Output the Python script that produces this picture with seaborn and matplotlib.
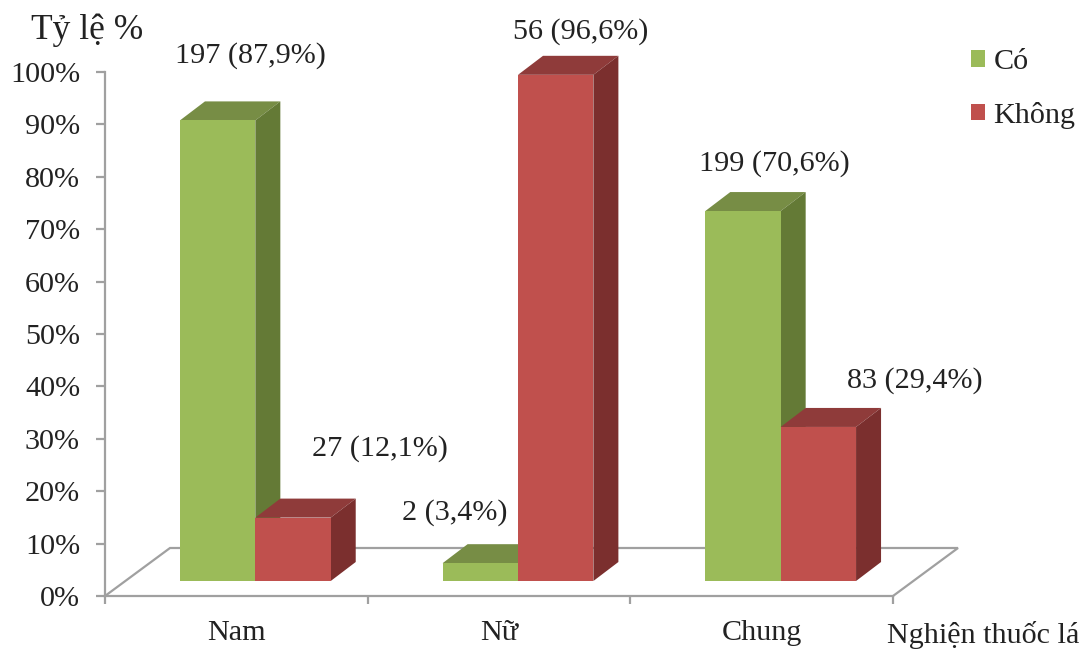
import matplotlib
matplotlib.use("Agg")
import matplotlib.pyplot as plt
import pandas as pd
import seaborn as sns
from matplotlib.lines import Line2D
from matplotlib.patches import Polygon
from matplotlib.transforms import Affine2D, IdentityTransform

# Smoking prevalence by sex
groups = ["Nam", "Nữ", "Chung"]
answers = ["Có", "Không"]
counts_yes = [197, 2, 199]
counts_no = [27, 56, 83]
percent_yes = [87.9, 3.4, 70.6]
percent_no = [12.1, 96.6, 29.4]
y_ticks = list(range(0, 101, 10))

sns.set_theme(style="white")
plt.rcParams["font.family"] = ["Liberation Serif", "DejaVu Serif"]
plt.rcParams["text.color"] = "#222222"

W, H = 1089, 652
FONT = 21.7
GRID = "#A0A0A0"
fronts = ["#9BBB59", "#C0504D"]
tops = ["#778D45", "#8F3B3A"]
sides = ["#647A36", "#7B2F2E"]

# Pseudo-3D geometry, in pixels
BAR_SHIFT = (19, 15)
BAR_DEPTH = (25, 19)
FLOOR_DEPTH = (65, 48)

# Label offsets from the front-top centre of each bar, in pixels
label_offsets = [
    [(52, 79.5), (-7, 65.5), (50, 62.5)],
    [(106, 84.5), (44, 58.5), (115, 61)],
]

df = pd.DataFrame({
    "group": groups * 2,
    "answer": [answers[0]] * 3 + [answers[1]] * 3,
    "percent": percent_yes + percent_no,
})

fig = plt.figure(figsize=(W / 100, H / 100), dpi=100)
ax = fig.add_axes([105 / W, (H - 596) / H, 788 / W, 524 / H])
sns.barplot(data=df, x="group", y="percent", hue="answer", order=groups,
            hue_order=answers, palette=fronts, saturation=1, width=0.574,
            gap=0, ax=ax, legend=False)
ax.set_xlim(-0.5, 2.5)
ax.set_ylim(0, 100)
ax.set_xlabel("")
ax.set_ylabel("")

# Axes
for name in ("top", "right"):
    ax.spines[name].set_visible(False)
for name in ("left", "bottom"):
    ax.spines[name].set_color(GRID)
    ax.spines[name].set_linewidth(1.6)
ax.set_yticks(y_ticks, [f"{t}%" for t in y_ticks], fontsize=FONT, color="#222222")
ax.set_xticks([-0.5, 0.5, 1.5, 2.5], [""] * 4)
ax.set_xticks(range(3), groups, minor=True, fontsize=FONT, color="#222222")
ax.tick_params(axis="y", which="major", left=True, length=6.5, width=1.6,
               color=GRID, pad=11.5)
ax.tick_params(axis="x", which="major", bottom=True, length=6, width=1.6, color=GRID)
ax.tick_params(axis="x", which="minor", bottom=False, length=0, pad=17)

# Floor outline behind the bars
to_px = ax.transData.transform
(x_left, y_front) = to_px((-0.5, 0))
(x_right, _) = to_px((2.5, 0))
fdx, fdy = FLOOR_DEPTH
ax.add_line(Line2D([x_left, x_left + fdx, x_right + fdx, x_right],
                   [y_front, y_front + fdy, y_front + fdy, y_front],
                   color=GRID, lw=1.6, transform=IdentityTransform(),
                   clip_on=False, zorder=1, solid_joinstyle="miter"))

# Extrude each bar and annotate it
sx, sy = BAR_SHIFT
dx, dy = BAR_DEPTH
count_rows = [counts_yes, counts_no]
percent_rows = [percent_yes, percent_no]
shift = Affine2D().translate(sx, sy)
for h, container in enumerate(ax.containers):
    base_z = 3 + h * 3
    for i, bar in enumerate(container):
        x0, x1 = bar.get_x(), bar.get_x() + bar.get_width()
        value = bar.get_height()
        bar.set_transform(ax.transData + shift)
        bar.set_clip_on(False)
        bar.set_edgecolor("none")
        bar.set_zorder(base_z + 2)
        ax0, ay0 = to_px((x0, 0))
        ax1, ay1 = to_px((x1, value))
        ax0, ax1, ay0, ay1 = ax0 + sx, ax1 + sx, ay0 + sy, ay1 + sy
        ax.add_patch(Polygon([(ax0, ay1), (ax1, ay1), (ax1 + dx, ay1 + dy), (ax0 + dx, ay1 + dy)],
                             closed=True, facecolor=tops[h], edgecolor="none",
                             transform=IdentityTransform(), clip_on=False, zorder=base_z + 1))
        ax.add_patch(Polygon([(ax1, ay0), (ax1, ay1), (ax1 + dx, ay1 + dy), (ax1 + dx, ay0 + dy)],
                             closed=True, facecolor=sides[h], edgecolor="none",
                             transform=IdentityTransform(), clip_on=False, zorder=base_z + 1))
        text = f"{count_rows[h][i]} ({percent_rows[h][i]:.1f}%)".replace(".", ",")
        ax.annotate(text, xy=((x0 + x1) / 2, value), xycoords="data",
                    xytext=label_offsets[h][i], textcoords="offset pixels",
                    ha="center", va="center", fontsize=FONT, annotation_clip=False,
                    zorder=20)

# Axis titles
ax.annotate("Tỷ lệ %", xy=(0, 1), xycoords="axes fraction", xytext=(-18, 42),
            textcoords="offset pixels", ha="center", va="center", fontsize=25.5)
ax.annotate("Nghiện thuốc lá", xy=(1, 0), xycoords="axes fraction", xytext=(90, -39),
            textcoords="offset pixels", ha="center", va="center", fontsize=FONT)

# Legend
ax.legend(handles=[c[0] for c in ax.containers], labels=answers, frameon=False,
          loc="upper left", bbox_to_anchor=(971 / W, 1 - 49 / H),
          bbox_transform=fig.transFigure, borderpad=0, borderaxespad=0,
          fontsize=FONT, handlelength=0.47, handleheight=0.47,
          handletextpad=0.28, labelspacing=0.88)

fig.savefig("out.png", dpi=100, facecolor="white")
